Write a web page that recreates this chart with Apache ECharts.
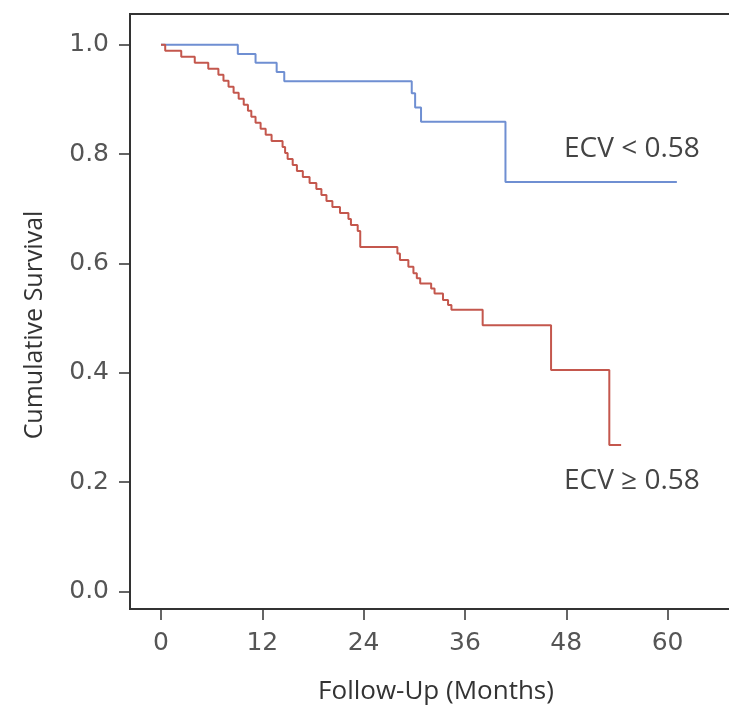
<!DOCTYPE html>
<html>
<head>
<meta charset="utf-8">
<script src="https://cdn.jsdelivr.net/npm/echarts@6/dist/echarts.min.js"></script>
<style>
html,body{margin:0;padding:0;background:#fff;}
#chart{width:729px;height:716px;}
</style>
</head>
<body>
<div id="chart"></div>
<script>
// Months of follow-up and cumulative survival (Kaplan-Meier step points)
const lowEcvTime = [0, 9.1, 11.2, 13.7, 14.6, 29.7, 30.1, 30.8, 40.8, 61.1];
const lowEcvSurv = [1.0, 0.983, 0.967, 0.950, 0.933, 0.911, 0.885, 0.859, 0.749, 0.749];

const highEcvTime = [0, 0.5, 2.4, 4.0, 5.6, 6.8, 7.4, 8.0, 8.6, 9.2, 9.8, 10.3, 10.7, 11.2, 11.8, 12.4,
  13.1, 14.4, 14.7, 15.0, 15.6, 16.1, 16.8, 17.6, 18.4, 19.0, 19.6, 20.3, 21.2, 22.2, 22.5, 23.3, 23.6,
  28.0, 28.3, 29.3, 29.9, 30.3, 30.7, 32.0, 32.4, 33.4, 34.0, 34.4, 38.1, 46.2, 53.1, 54.5];
const highEcvSurv = [1.0, 0.989, 0.978, 0.967, 0.956, 0.945, 0.934, 0.923, 0.912, 0.901, 0.890, 0.879, 0.868, 0.857, 0.846, 0.835,
  0.824, 0.813, 0.802, 0.791, 0.780, 0.769, 0.758, 0.747, 0.736, 0.725, 0.714, 0.703, 0.692, 0.681, 0.670, 0.659, 0.630,
  0.618, 0.606, 0.594, 0.582, 0.573, 0.563, 0.554, 0.545, 0.533, 0.524, 0.515, 0.487, 0.405, 0.268, 0.268];

const xTicks = [0, 12, 24, 36, 48, 60];
const yTicks = [0, 0.2, 0.4, 0.6, 0.8, 1.0];
const seriesNames = ['ECV < 0.58', 'ECV \u2265 0.58'];
const xTitle = 'Follow-Up (Months)';
const yTitle = 'Cumulative Survival';

const zip = (a, b) => a.map((v, i) => [v, b[i]]);

const chart = echarts.init(document.getElementById('chart'), null, {renderer: 'canvas'});
const labelFont = {fontFamily: 'DejaVu Sans', fontSize: 25, color: '#555'};
chart.setOption({
  animation: false,
  backgroundColor: '#fff',
  grid: {left: 130, top: 14, width: 622, bottom: 107, show: true, borderColor: '#333', borderWidth: 2,
         containLabel: false, outerBoundsMode: 'none'},
  xAxis: {
    type: 'value', min: -3.67, max: 70,
    axisLine: {show: true, onZero: false, lineStyle: {color: '#333', width: 2}},
    axisTick: {show: true, customValues: xTicks, length: 11, lineStyle: {color: '#333', width: 1.5}},
    axisLabel: Object.assign({customValues: xTicks, margin: 22}, labelFont),
    splitLine: {show: false}
  },
  yAxis: {
    type: 'value', min: -0.032, max: 1.056,
    axisLine: {show: true, onZero: false, lineStyle: {color: '#333', width: 2}},
    axisTick: {show: true, customValues: yTicks, length: 11, lineStyle: {color: '#333', width: 1.5}},
    axisLabel: Object.assign({customValues: yTicks, margin: 21, formatter: v => v.toFixed(1)}, labelFont),
    splitLine: {show: false}
  },
  series: [
    {name: seriesNames[0], type: 'line', step: 'end', showSymbol: false, symbol: 'none',
     lineStyle: {color: '#6f8fd2', width: 2}, data: zip(lowEcvTime, lowEcvSurv)},
    {name: seriesNames[1], type: 'line', step: 'end', showSymbol: false, symbol: 'none',
     lineStyle: {color: '#c4574d', width: 2}, data: zip(highEcvTime, highEcvSurv)}
  ],
  graphic: [
    {type: 'text', x: 564, y: 149, style: {text: seriesNames[0], fontFamily: 'Open Sans', fontSize: 28, fill: '#444', verticalAlign: 'middle'}},
    {type: 'text', x: 564, y: 481, style: {text: seriesNames[1], fontFamily: 'Open Sans', fontSize: 28, fill: '#444', verticalAlign: 'middle'}},
    {type: 'text', x: 436, y: 692, style: {text: xTitle, fontFamily: 'Open Sans', fontSize: 26, fill: '#333', align: 'center', verticalAlign: 'middle'}},
    {type: 'text', x: 35, y: 325, rotation: Math.PI / 2, style: {text: yTitle, fontFamily: 'Open Sans', fontSize: 25, fill: '#333', align: 'center', verticalAlign: 'middle'}}
  ]
});
</script>
</body>
</html>
